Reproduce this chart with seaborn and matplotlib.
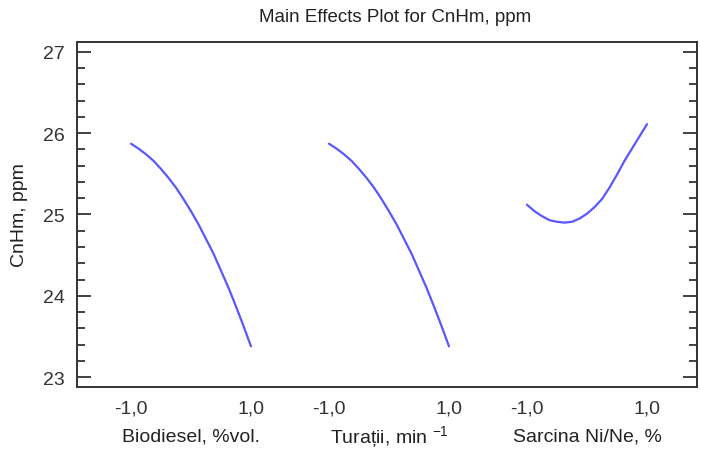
import numpy as np
import pandas as pd
import seaborn as sns
import matplotlib.pyplot as plt
import matplotlib.transforms as mtransforms
from matplotlib.ticker import MultipleLocator

# Main effects for CnHm, ppm (coded levels -1..1)
factors = ["Biodiesel, %vol.", "Turații, min $^{-1}$", "Sarcina Ni/Ne, %"]
levels = [-1.0, -0.875, -0.75, -0.625, -0.5, -0.375, -0.25, -0.125, 0.0,
          0.125, 0.25, 0.375, 0.5, 0.625, 0.75, 0.875, 1.0]
y_biodiesel = [25.87, 25.81, 25.74, 25.66, 25.56, 25.45, 25.33, 25.19, 25.04,
               24.88, 24.70, 24.52, 24.31, 24.10, 23.87, 23.63, 23.38]
y_turatii = [25.87, 25.81, 25.74, 25.66, 25.56, 25.45, 25.33, 25.19, 25.04,
             24.88, 24.70, 24.52, 24.31, 24.10, 23.87, 23.63, 23.38]
y_sarcina = [25.12, 25.04, 24.98, 24.93, 24.91, 24.90, 24.91, 24.95, 25.01,
             25.09, 25.19, 25.33, 25.49, 25.66, 25.81, 25.96, 26.11]
tick_labels = ["-1,0", "1,0"]

series = [y_biodiesel, y_turatii, y_sarcina]
spacing = 3.3  # distance between factor panels on the shared axis

sns.set_theme(style="ticks")
plt.rcParams["font.family"] = ["Liberation Sans", "DejaVu Sans"]
plt.rcParams["mathtext.default"] = "regular"

fig = plt.figure(figsize=(7.01, 4.52), dpi=100)
ax = fig.add_axes([0.1098, 0.1416, 0.9943 - 0.1098, 0.9049 - 0.1416])

line_color = "#5858ff"
frames = []
for i, (name, ys) in enumerate(zip(factors, series)):
    frames.append(pd.DataFrame({"factor": name, "level": levels,
                                "pos": np.array(levels) + i * spacing, "CnHm": ys}))
df = pd.concat(frames, ignore_index=True)

for name in factors:
    sub = df[df["factor"] == name]
    sns.lineplot(data=sub, x="pos", y="CnHm", ax=ax, color=line_color, lw=1.6,
                 sort=False, estimator=None)

ax.set_xlim(-1.9, -1.9 + 620 / 60)
ax.set_ylim(22.88, 27.12)

# x ticks: -1 and 1 for every factor
xticks, xlabels = [], []
for i in range(len(factors)):
    xticks += [-1 + i * spacing, 1 + i * spacing]
    xlabels += tick_labels
ax.set_xticks(xticks)
ax.set_xticklabels(xlabels, fontsize=14, color="#333333")
ax.tick_params(axis="x", length=0, pad=9)

ax.yaxis.set_major_locator(MultipleLocator(1))
ax.yaxis.set_minor_locator(MultipleLocator(0.2))
ax.tick_params(axis="y", which="both", direction="in", left=True, right=True,
               color="#333333", width=1.3)
ax.tick_params(axis="y", which="major", length=10, labelsize=14, pad=9)
ax.tick_params(axis="y", which="minor", length=5.5)
ax.tick_params(axis="y", which="both", labelcolor="#333333")

for sp in ax.spines.values():
    sp.set_color("#333333")
    sp.set_linewidth(1.4)

ax.set_xlabel("")
ax.set_ylabel("")
fig.text(20 / 701, 1 - 215 / 452, "CnHm, ppm", rotation=90, ha="center", va="center",
         fontsize=14, color="#222222")

# factor names under each panel
trans = mtransforms.blended_transform_factory(ax.transData, fig.transFigure)
for i, name in enumerate(factors):
    ax.text(i * spacing, 1 - 437 / 452, name, transform=trans, ha="center", va="center",
            fontsize=14, color="#222222")

fig.text(0.564, 1 - 18 / 452, "Main Effects Plot for CnHm, ppm", ha="center", va="center",
         fontsize=13.5, color="#222222")

fig.savefig("out.png", dpi=100)
